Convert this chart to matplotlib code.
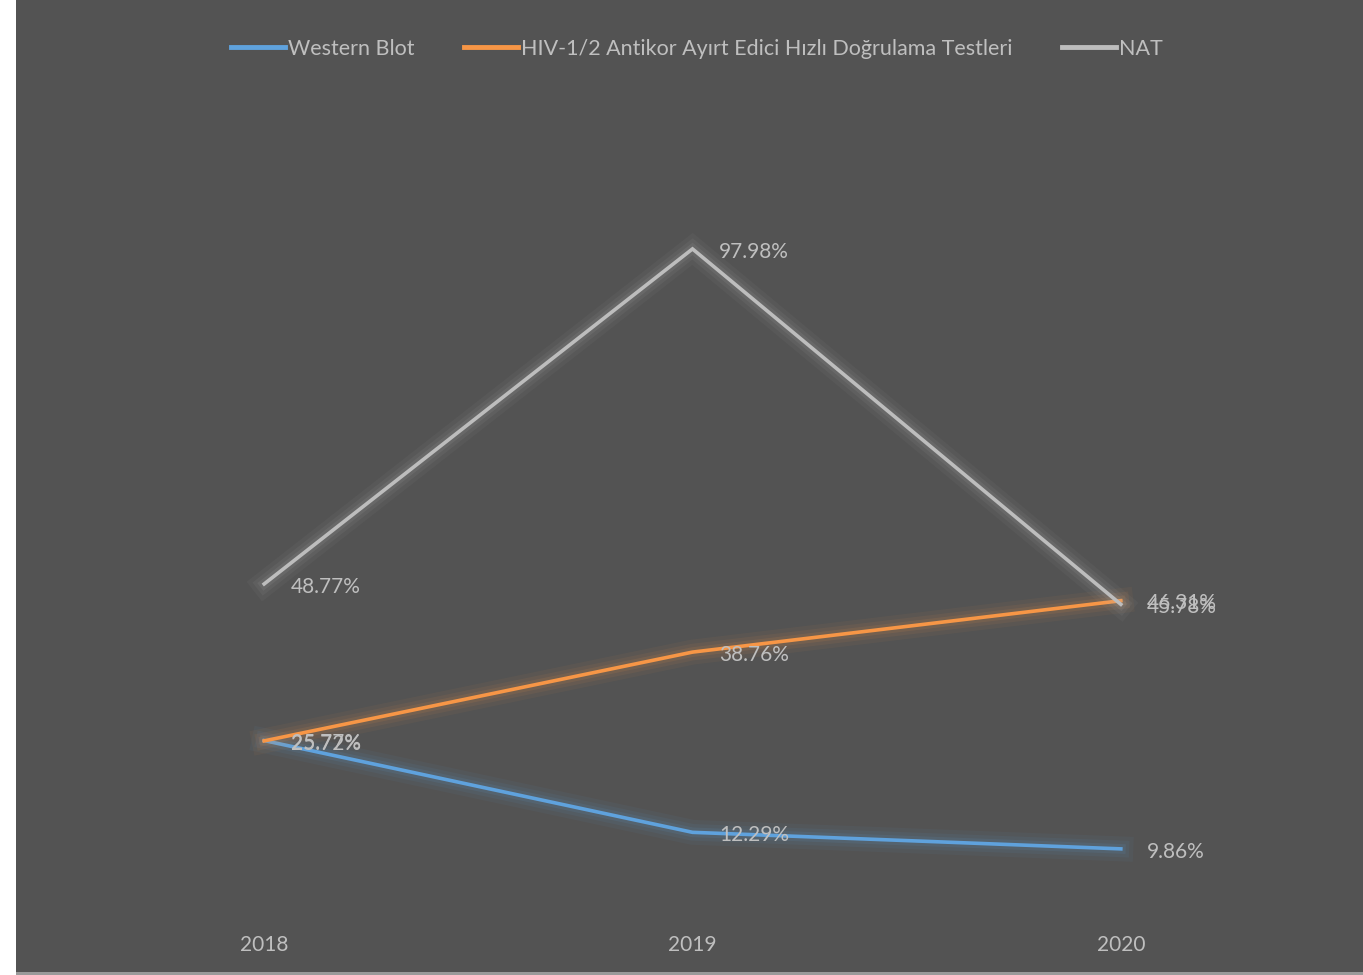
import matplotlib
matplotlib.use("Agg")
import matplotlib.pyplot as plt
import matplotlib.patheffects as pe
from matplotlib.patches import Rectangle

years = ["2018", "2019", "2020"]
series_names = ["Western Blot", "HIV-1/2 Antikor Ayırt Edici Hızlı Doğrulama Testleri", "NAT"]
western_blot = [25.77, 12.29, 9.86]
hiv_rapid = [25.72, 38.76, 46.31]
nat = [48.77, 97.98, 45.78]
colors = ["#5FA2DD", "#F79646", "#BDBDBD"]

plt.rcParams['font.family'] = ['Lato', 'DejaVu Sans']

W, H = 1363, 975
fig = plt.figure(figsize=(W / 100, H / 100), dpi=100)
fig.patch.set_facecolor("white")
bg = "#535353"
fig.patches.append(Rectangle((16 / W, 3 / H), 1 - 16 / W, 1 - 3 / H, transform=fig.transFigure,
                             facecolor=bg, edgecolor="none", zorder=-10))
fig.patches.append(Rectangle((16 / W, 0), 1 - 16 / W, 3 / H, transform=fig.transFigure,
                             facecolor="#9a9a9a", edgecolor="none", zorder=-10))

ax = fig.add_axes([50 / W, (H - 916) / H, (1335 - 50) / W, (916 - 99) / H])
ax.set_zorder(1)
ax.set_facecolor("none")
for s in ax.spines.values():
    s.set_visible(False)

x = list(range(len(years)))
all_series = [western_blot, hiv_rapid, nat]
handles = []
for vals, name, c in zip(all_series, series_names, colors):
    ln, = ax.plot(x, vals, color=c, lw=2.6, solid_joinstyle="miter", label=name,
                  path_effects=[pe.Stroke(linewidth=18, foreground=c, alpha=0.05),
                                pe.Stroke(linewidth=12, foreground=c, alpha=0.07),
                                pe.Stroke(linewidth=7, foreground=c, alpha=0.10),
                                pe.Normal()])
    handles.append(ln)
    for xi, v in zip(x, vals):
        ax.annotate(f"{v:.2f}%", (xi, v), xytext=(19, -2), textcoords="offset points",
                    ha="left", va="center", fontsize=15, color="#BFBFBF")

ax.set_xlim(-0.5, 2.5)
ax.set_ylim(0, 120)
ax.set_yticks([])
ax.set_xticks(x)
ax.set_xticklabels(years)
ax.tick_params(axis="x", length=0, pad=14, labelsize=15, labelcolor="#BFBFBF")

leg = fig.legend(handles=handles, loc="center", bbox_to_anchor=(697 / W, 1 - 49 / H), ncol=3,
                 frameon=False, fontsize=15.5, labelcolor="#BFBFBF", handlelength=2.5,
                 handletextpad=0.15, columnspacing=2.3)
for lh in leg.get_lines():
    lh.set_path_effects([])
    lh.set_linewidth(3.5)

fig.savefig("out.png", dpi=100, facecolor=fig.get_facecolor())
